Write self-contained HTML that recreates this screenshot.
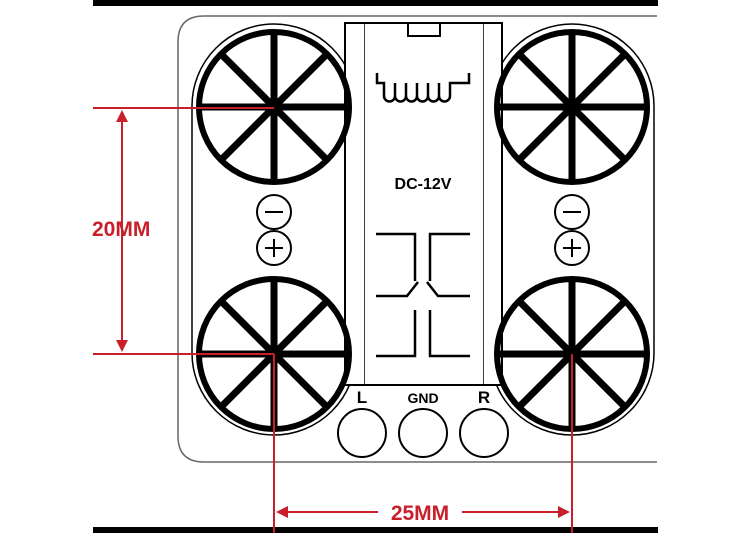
<!DOCTYPE html>
<html><head><style>body{margin:0;background:#fff}svg{display:block}</style></head><body>
<svg width="750" height="533" viewBox="0 0 750 533" xmlns="http://www.w3.org/2000/svg" font-family="Liberation Sans, sans-serif">
<defs>
<g id="wheel">
<circle r="75" fill="none" stroke="#000" stroke-width="6"/>
<g stroke="#000" stroke-width="7">
<line x1="-75" y1="0" x2="75" y2="0"/><line x1="0" y1="-75" x2="0" y2="75"/>
<line x1="-53" y1="-53" x2="53" y2="53"/><line x1="-53" y1="53" x2="53" y2="-53"/>
</g>
</g>
</defs>
<rect x="93" y="0" width="565" height="6" fill="#000"/>
<rect x="93" y="527" width="565" height="6" fill="#000"/>
<path d="M657 16 H204 Q178 16 178 42 V436 Q178 462 204 462 H657" fill="none" stroke="#666" stroke-width="1.5"/>
<rect x="192" y="24" width="164" height="411" rx="82" fill="none" stroke="#000" stroke-width="1.5"/>
<rect x="490" y="24" width="164" height="411" rx="82" fill="none" stroke="#000" stroke-width="1.5"/>
<rect x="345" y="23" width="157" height="362" fill="#fff" stroke="#000" stroke-width="2"/>
<line x1="365" y1="23" x2="365" y2="385" stroke="#000" stroke-width="1.5"/>
<line x1="483" y1="23" x2="483" y2="385" stroke="#000" stroke-width="1.5"/>
<rect x="365" y="24" width="118" height="360" fill="#fff"/>
<rect x="408" y="23" width="32" height="13" fill="#fff" stroke="#000" stroke-width="2"/>
<path d="M377 73 V83 H384 V96 a5.5 5.5 0 0 0 11 0 V83 M395 96 a5.5 5.5 0 0 0 11 0 V83 M406 96 a5.5 5.5 0 0 0 11 0 V83 M417 96 a5.5 5.5 0 0 0 11 0 V83 M428 96 a5.5 5.5 0 0 0 11 0 V83 M439 96 a5.5 5.5 0 0 0 11 0 V83 H469 V73" fill="none" stroke="#000" stroke-width="2.5"/>
<text x="423" y="189" font-size="16" font-weight="bold" text-anchor="middle">DC-12V</text>
<g fill="none" stroke="#000" stroke-width="2.5">
<path d="M376 234 H415 V281"/><path d="M470 234 H430 V281"/>
<path d="M376 296 H407 L418 282"/><path d="M470 296 H438 L427 282"/>
<path d="M415 310 V356 H376"/><path d="M430 310 V356 H470"/>
</g>
<text x="362" y="403" font-size="17" font-weight="bold" text-anchor="middle">L</text>
<text x="423" y="403" font-size="14" font-weight="bold" text-anchor="middle">GND</text>
<text x="484" y="403" font-size="17" font-weight="bold" text-anchor="middle">R</text>
<g fill="none" stroke="#000" stroke-width="2">
<circle cx="362" cy="433" r="24"/><circle cx="423" cy="433" r="24"/><circle cx="484" cy="433" r="24"/>
</g>
<use href="#wheel" x="274" y="107"/><use href="#wheel" x="572" y="107"/>
<use href="#wheel" x="274" y="354"/><use href="#wheel" x="572" y="354"/>
<g fill="none" stroke="#000" stroke-width="2">
<circle cx="274" cy="212" r="17"/><circle cx="274" cy="248" r="17"/>
<circle cx="572" cy="212" r="17"/><circle cx="572" cy="248" r="17"/>
<path d="M265 212 H283 M265 248 H283 M274 239 V257 M563 212 H581 M563 248 H581 M572 239 V257"/>
</g>
<rect x="658" y="0" width="92" height="533" fill="#fff"/>
<g stroke="#c8202a" stroke-width="2" fill="none">
<line x1="93" y1="108" x2="274" y2="108"/><line x1="93" y1="354" x2="274" y2="354"/>
<line x1="122" y1="112" x2="122" y2="350"/>
<line x1="274" y1="354" x2="274" y2="533"/><line x1="572" y1="354" x2="572" y2="533"/>
<line x1="280" y1="512" x2="378" y2="512"/><line x1="462" y1="512" x2="566" y2="512"/>
</g>
<g fill="#c8202a">
<path d="M122 110 L116 122 H128 Z"/><path d="M122 352 L116 340 H128 Z"/>
<path d="M276 512 L288 506 V518 Z"/><path d="M570 512 L558 506 V518 Z"/>
</g>
<text x="92" y="236" font-size="21" font-weight="bold" fill="#c8202a">20MM</text>
<text x="420" y="520" font-size="21" font-weight="bold" fill="#c8202a" text-anchor="middle">25MM</text>
</svg>
</body></html>
